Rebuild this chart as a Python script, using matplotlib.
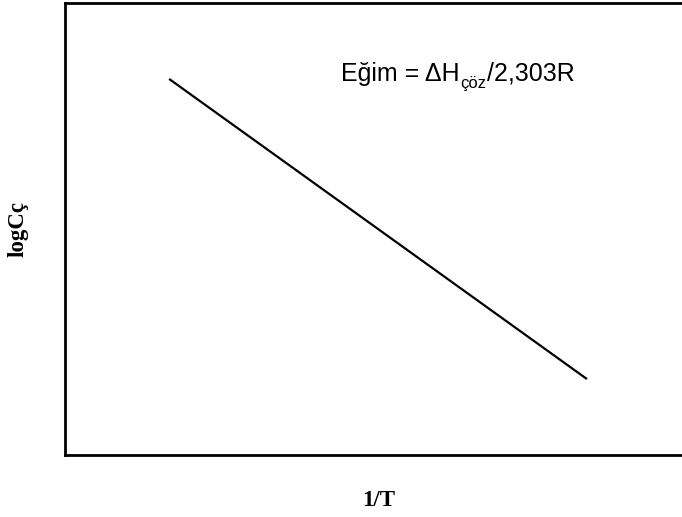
import matplotlib
matplotlib.use("Agg")
import matplotlib.pyplot as plt

# Data (schematic linear relation, axis units 0..1)
inv_T = [0.164, 0.822]
log_C = [0.832, 0.168]
x_label = "1/T"
y_label = "logCç"
ann_main = "Eğim = ΔH"
ann_sub = "çöz"
ann_tail = "/2,303R"

W, H = 682, 517
fig = plt.figure(figsize=(W / 100, H / 100), dpi=100)
left, right, top, bottom = 65, 700, 3, 455
ax = fig.add_axes([left / W, (H - bottom) / H, (right - left) / W, (bottom - top) / H])
ax.plot(inv_T, log_C, color='black', lw=1.6, solid_capstyle='butt')
ax.set_xlim(0, 1)
ax.set_ylim(0, 1)
ax.set_xticks([])
ax.set_yticks([])
for s in ax.spines.values():
    s.set_linewidth(2.0)
    s.set_color('black')


def px(x, y):
    return x / W, 1 - y / H


renderer = fig.canvas.get_renderer()
base_y = 81
x0 = 341
fs = 18
t1 = fig.text(*px(x0, base_y), ann_main, fontsize=fs, family='Liberation Sans',
              ha='left', va='baseline')
x1 = t1.get_window_extent(renderer).x1 + 1
t2 = fig.text(x1 / W, 1 - (base_y + 7) / H, ann_sub, fontsize=12, family='Liberation Sans',
              ha='left', va='baseline')
x2 = t2.get_window_extent(renderer).x1 + 0.5
fig.text(x2 / W, 1 - base_y / H, ann_tail, fontsize=fs, family='Liberation Sans',
         ha='left', va='baseline')

fig.text(*px(379, 501), x_label, fontsize=16.5, fontweight='bold',
         family='Liberation Serif', ha='center', va='center')
fig.text(*px(18, 229), y_label, fontsize=16.5, fontweight='bold',
         family='Liberation Serif', ha='center', va='center', rotation=90)

fig.savefig("out.png", dpi=100)
